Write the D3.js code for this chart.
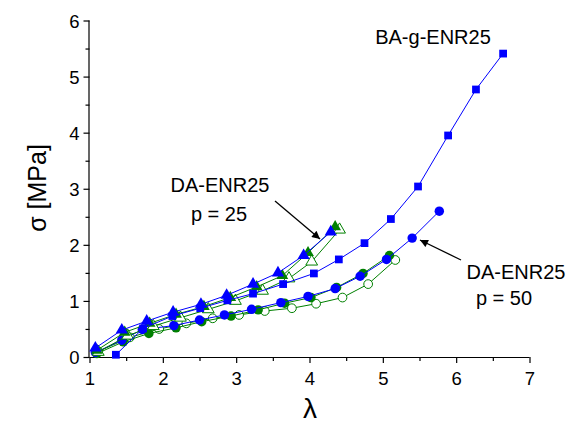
<!DOCTYPE html>
<html><head><meta charset="utf-8">
<script src="https://cdn.jsdelivr.net/npm/d3@7"></script>
<style>body{margin:0;background:#fff}svg{display:block}text{font-family:"Liberation Sans",Arial,sans-serif}</style>
</head><body><svg id="c" width="569" height="431"></svg>
<script>
const xTicks=[1,2,3,4,5,6,7];
const yTicks=[0,1,2,3,4,5,6];
const baSquares=[[1.36,0.04],[1.73,0.51],[2.13,0.73],[2.51,0.87],[2.88,1.01],[3.23,1.13],[3.64,1.30],[4.06,1.49],[4.40,1.74],[4.75,2.03],[5.11,2.46],[5.48,3.04],[5.89,3.95],[6.27,4.77],[6.64,5.41]];
const triBlue=[[1.08,0.16],[1.44,0.48],[1.78,0.64],[2.14,0.80],[2.52,0.94],[2.87,1.10],[3.23,1.30],[3.57,1.50],[3.92,1.81],[4.29,2.23]];
const triGreen=[[1.10,0.12],[1.48,0.44],[1.82,0.60],[2.18,0.76],[2.56,0.90],[2.92,1.06],[3.28,1.25],[3.63,1.45],[3.98,1.86],[4.35,2.32]];
const triOpen=[[1.12,0.09],[1.52,0.38],[1.87,0.55],[2.24,0.70],[2.62,0.85],[2.99,1.00],[3.36,1.18],[3.72,1.40],[4.03,1.70],[4.41,2.27]];
const cirBlue=[[1.08,0.08],[1.44,0.30],[1.72,0.49],[2.15,0.56],[2.50,0.66],[2.84,0.75],[3.21,0.85],[3.61,0.97],[3.98,1.08],[4.35,1.22],[4.69,1.44],[5.05,1.74],[5.40,2.12],[5.77,2.60]];
const cirGreen=[[1.10,0.06],[1.46,0.27],[1.81,0.42],[2.18,0.52],[2.53,0.63],[2.93,0.73],[3.30,0.84],[3.66,0.96],[4.02,1.06],[4.37,1.24],[4.73,1.49],[5.09,1.81]];
const cirOpen=[[1.12,0.10],[1.55,0.35],[1.95,0.50],[2.32,0.60],[2.68,0.69],[3.04,0.75],[3.39,0.82],[3.76,0.87],[4.09,0.95],[4.45,1.06],[4.80,1.30],[5.17,1.73]];

const svg=d3.select("#c");
const x=d3.scaleLinear().domain([1,7]).range([89.5,529.5]);
const y=d3.scaleLinear().domain([0,6]).range([357,20.5]);
const BLUE="#0000ff", GREEN="#008000";

// axes
const xa=svg.append("g").attr("transform","translate(0,357)");
xa.call(d3.axisBottom(x).tickValues(d3.range(1,7.01,0.5)).tickSize(4).tickFormat(()=>""));
xa.call(g=>g.selectAll(".tick").filter(d=>Number.isInteger(d)).select("line").attr("y2",6));
xa.select(".domain").attr("d","M89.5,0.5H529.5");
xa.selectAll(".tick").filter(d=>Number.isInteger(d)).append("text").attr("y",28).attr("fill","#000").attr("font-size",18.5).attr("text-anchor","middle").text(d=>d);
const ya=svg.append("g").attr("transform","translate(89.5,0)");
ya.call(d3.axisLeft(y).tickValues(d3.range(0,6.01,0.5)).tickSize(4).tickFormat(()=>""));
ya.call(g=>g.selectAll(".tick").filter(d=>Number.isInteger(d)).select("line").attr("x2",-6));
ya.select(".domain").attr("d","M-0.5,357V20.5");
ya.selectAll(".tick").filter(d=>Number.isInteger(d)).append("text").attr("x",-10).attr("dy","0.36em").attr("fill","#000").attr("font-size",18.5).attr("text-anchor","end").text(d=>d);
svg.selectAll(".domain,.tick line").attr("stroke","#000").attr("stroke-width",1.2);

svg.append("text").attr("transform","translate(46,188) rotate(-90)").attr("text-anchor","middle").attr("font-size",25).text("σ [MPa]");
svg.append("text").attr("x",310).attr("y",418).attr("text-anchor","middle").attr("font-size",28).text("λ");

const line=d3.line().x(d=>x(d[0])).y(d=>y(d[1]));
function series(data,color,shape,filled,size){
  svg.append("path").attr("d",line(data)).attr("fill","none").attr("stroke",color).attr("stroke-width",1);
  const sym=d3.symbol().type(shape).size(size);
  svg.append("g").selectAll("path").data(data).join("path")
    .attr("transform",d=>`translate(${x(d[0])},${y(d[1])})`).attr("d",sym)
    .attr("fill",filled?color:"#fff").attr("stroke",color).attr("stroke-width",filled?0:1);
}
series(cirOpen,GREEN,d3.symbolCircle,false,60);
series(cirGreen,GREEN,d3.symbolCircle,true,70);
series(cirBlue,BLUE,d3.symbolCircle,true,70);
series(triOpen,GREEN,d3.symbolTriangle,false,60);
series(triGreen,GREEN,d3.symbolTriangle,true,60);
series(triBlue,BLUE,d3.symbolTriangle,true,65);
series(baSquares,BLUE,d3.symbolSquare,true,60);

// annotations
svg.append("defs").append("marker").attr("id","ah").attr("viewBox","0 0 10 10").attr("refX",10).attr("refY",5)
  .attr("markerWidth",10).attr("markerHeight",8).attr("markerUnits","userSpaceOnUse").attr("orient","auto")
  .append("path").attr("d","M0,0L10,5L0,10Z").attr("fill","#000");
svg.append("line").attr("x1",275).attr("y1",201).attr("x2",320).attr("y2",239).attr("stroke","#000").attr("stroke-width",1.3).attr("marker-end","url(#ah)");
svg.append("line").attr("x1",461).attr("y1",260).attr("x2",420).attr("y2",240).attr("stroke","#000").attr("stroke-width",1.3).attr("marker-end","url(#ah)");
const lab=[["BA-g-ENR25",433,44],["DA-ENR25",220,192],["p = 25",219,221],["DA-ENR25",516,279],["p = 50",504,305]];
svg.selectAll(".lab").data(lab).join("text").attr("x",d=>d[1]).attr("y",d=>d[2]).attr("text-anchor","middle").attr("font-size",20).text(d=>d[0]);
</script></body></html>
